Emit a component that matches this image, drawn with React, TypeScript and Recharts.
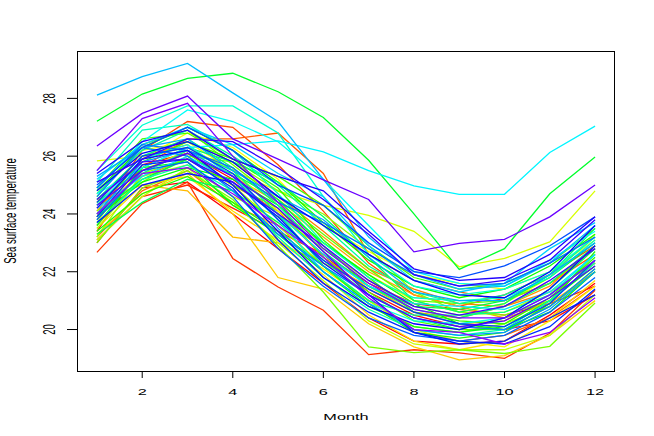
import { LineChart, Line, XAxis, YAxis } from 'recharts';

// monthly sea surface temperature, one line per year
const months = [1, 2, 3, 4, 5, 6, 7, 8, 9, 10, 11, 12];
const xTicks = [2, 4, 6, 8, 10, 12];
const yTicks = [20, 22, 24, 26, 28];

const s00 = [23.0, 24.9, 25.1, 24.0, 22.8, 21.6, 20.4, 19.6, 19.5, 19.6, 20.5, 21.6];
const s01 = [23.4, 25.7, 26.1, 25.2, 24.0, 22.6, 21.3, 20.5, 20.1, 20.0, 20.3, 21.2];
const t00 = [23.1, 24.6, 25.0, 24.2, 23.4, 22.6, 21.6, 20.9, 20.7, 20.5, 20.9, 21.5];
const s02 = [22.67, 24.36, 25.1, 22.46, 21.47, 20.67, 19.13, 19.3, 19.19, 19.0, 19.87, 21.36];
const s03 = [23.9, 26.2, 27.2, 27.0, 25.7, 24.1, 22.3, 21.2, 20.8, 21.2, 21.9, 22.9];
const s04 = [24.2, 25.6, 26.6, 26.6, 26.8, 25.4, 22.6, 21.7, 21.3, 21.0, 21.6, 22.6];
const s05 = [23.2, 24.8, 25.5, 24.3, 23.6, 22.2, 20.9, 19.9, 19.6, 19.8, 20.4, 21.5];
const t01 = [24.1, 25.9, 26.5, 25.8, 24.6, 23.4, 22.1, 21.4, 20.9, 20.8, 21.3, 22.3];
const s06 = [23.6, 25.3, 25.9, 25.0, 24.1, 22.5, 21.4, 20.6, 20.4, 20.8, 21.5, 22.9];
const s07 = [24.4, 26.0, 26.4, 25.3, 24.4, 23.2, 22.0, 21.2, 20.8, 20.4, 20.9, 22.0];
const s08 = [24.5, 25.0, 24.8, 23.2, 23.0, 22.3, 21.5, 20.6, 20.2, 20.3, 21.0, 22.3];
const s09 = [23.3, 24.7, 25.4, 24.0, 21.8, 21.4, 20.2, 19.4, 18.95, 19.1, 19.8, 21.0];
const t02 = [23.5, 25.0, 25.3, 24.1, 23.1, 21.9, 20.5, 19.6, 19.3, 19.6, 20.4, 21.7];
const s10 = [24.0, 25.5, 26.2, 25.6, 23.1, 22.1, 21.0, 20.0, 19.6, 19.4, 20.3, 21.5];
const s11 = [23.7, 25.9, 26.8, 26.3, 25.2, 23.6, 22.7, 21.9, 21.6, 21.4, 22.0, 23.1];
const t03 = [24.7, 26.2, 26.5, 25.5, 24.1, 23.0, 21.9, 21.0, 20.6, 20.9, 21.8, 23.3];
const s12 = [25.84, 26.0, 26.3, 25.5, 24.8, 24.3, 23.95, 23.4, 22.17, 22.46, 23.03, 24.8];
const s13 = [23.1, 24.6, 25.6, 24.4, 23.0, 21.7, 20.3, 19.5, 19.3, 19.3, 19.8, 21.2];
const s14 = [23.5, 25.3, 25.7, 24.6, 23.9, 22.8, 21.7, 20.8, 20.5, 20.6, 21.3, 22.3];
const t04 = [23.2, 25.4, 25.9, 25.0, 23.6, 22.2, 21.0, 20.1, 19.9, 20.2, 20.8, 22.1];
const s15 = [24.1, 25.1, 26.0, 25.8, 24.8, 24.0, 22.8, 21.3, 20.6, 20.5, 21.0, 22.6];
const s16 = [23.0, 24.9, 25.5, 24.5, 22.9, 21.3, 19.4, 19.2, 19.3, 19.17, 19.42, 20.92];
const s17 = [24.6, 26.4, 26.9, 25.7, 24.5, 23.3, 22.1, 21.0, 20.9, 21.0, 21.6, 22.8];
const s18 = [23.8, 25.5, 26.1, 25.0, 24.2, 22.5, 21.3, 20.3, 20.0, 20.0, 20.8, 22.0];
const t05 = [24.9, 26.6, 26.8, 25.9, 25.3, 24.3, 22.9, 21.8, 21.4, 21.6, 22.3, 23.5];
const s19 = [24.3, 25.8, 26.5, 25.9, 24.9, 23.1, 21.8, 20.6, 20.3, 20.2, 21.1, 22.5];
const s20 = [23.4, 24.7, 25.3, 24.4, 23.4, 22.2, 20.9, 19.9, 19.7, 19.9, 20.9, 22.7];
const s21 = [24.8, 26.3, 27.0, 26.2, 25.1, 23.7, 22.4, 21.5, 21.1, 21.4, 22.2, 23.3];
const t06 = [23.9, 25.1, 25.6, 25.2, 24.3, 23.0, 21.9, 20.9, 20.2, 20.0, 20.6, 22.0];
const s22 = [23.6, 25.6, 25.8, 24.3, 23.3, 22.0, 20.8, 20.1, 19.9, 20.1, 21.0, 22.2];
const s23 = [27.21, 28.15, 28.69, 28.87, 28.23, 27.34, 25.86, 24.0, 22.08, 22.8, 24.7, 25.97];
const s24 = [24.0, 25.2, 25.9, 25.4, 24.5, 22.9, 21.5, 20.8, 20.7, 21.0, 21.8, 23.0];
const s25 = [23.3, 24.4, 25.2, 24.8, 23.7, 22.4, 21.2, 20.4, 20.0, 20.4, 21.4, 22.8];
const t07 = [24.4, 25.6, 26.3, 25.8, 25.1, 23.9, 22.5, 21.0, 20.6, 20.9, 21.9, 23.5];
const s26 = [24.5, 26.0, 26.6, 25.6, 24.3, 22.7, 21.5, 20.7, 20.4, 20.8, 21.6, 22.9];
const s27 = [23.9, 25.4, 26.2, 25.5, 24.0, 22.2, 21.0, 20.5, 20.5, 20.6, 21.2, 22.4];
const s28 = [24.7, 26.2, 26.9, 26.0, 25.0, 23.6, 22.2, 21.3, 20.9, 21.2, 21.9, 23.2];
const t08 = [23.7, 25.2, 25.7, 24.8, 23.2, 21.8, 20.7, 20.0, 19.8, 20.0, 21.0, 22.3];
const s29 = [25.1, 26.9, 27.1, 26.2, 24.7, 23.0, 21.8, 21.1, 21.0, 21.1, 21.8, 23.1];
const s30 = [25.5, 27.07, 27.74, 27.74, 26.8, 24.6, 22.6, 21.5, 21.2, 21.4, 22.0, 23.2];
const s31 = [24.3, 25.9, 26.4, 25.3, 23.8, 22.0, 20.9, 20.3, 20.2, 20.4, 21.2, 22.6];
const s32 = [24.9, 26.5, 27.6, 27.2, 26.5, 25.2, 23.6, 22.0, 21.6, 21.5, 22.4, 23.4];
const s33 = [24.7, 25.6, 26.3, 26.4, 26.53, 26.15, 25.5, 24.97, 24.68, 24.68, 26.13, 27.04];
const s34 = [24.2, 25.3, 26.0, 25.1, 24.0, 22.6, 21.5, 20.9, 20.8, 20.7, 21.3, 22.6];
const t09 = [25.2, 26.4, 27.0, 26.4, 25.4, 24.6, 22.9, 21.7, 21.3, 21.6, 22.8, 23.7];
const s35 = [28.11, 28.75, 29.21, 28.19, 27.2, 25.2, 23.2, 21.9, 21.4, 21.5, 22.3, 23.6];
const s36 = [25.3, 26.3, 26.6, 25.5, 24.6, 23.8, 22.5, 21.3, 21.0, 21.0, 21.9, 23.0];
const s37 = [24.0, 25.8, 26.2, 25.3, 23.5, 22.0, 20.9, 20.0, 19.8, 19.9, 20.7, 22.0];
const s38 = [24.6, 26.3, 26.0, 24.8, 23.3, 22.2, 21.2, 20.4, 20.1, 20.0, 20.8, 22.1];
const t10 = [24.9, 26.4, 26.2, 25.6, 24.4, 23.7, 22.8, 21.9, 21.5, 21.6, 22.3, 23.2];
const s39 = [23.8, 25.5, 25.8, 24.6, 22.8, 21.5, 20.4, 19.8, 19.6, 19.8, 20.6, 21.8];
const s40 = [25.0, 26.3, 27.0, 26.2, 25.0, 24.3, 23.0, 22.0, 21.8, 22.2, 22.9, 23.9];
const s41 = [24.4, 26.0, 26.3, 25.4, 23.8, 22.4, 21.4, 20.6, 20.2, 20.1, 20.9, 22.4];
const t11 = [23.9, 25.7, 25.9, 24.9, 23.1, 21.6, 20.6, 19.9, 19.6, 19.5, 20.1, 21.4];
const s42 = [23.7, 25.0, 25.4, 25.1, 23.9, 22.3, 21.2, 19.9, 19.5, 19.6, 20.4, 21.2];
const s43 = [24.8, 26.1, 26.5, 25.8, 24.6, 23.6, 22.6, 21.7, 21.2, 21.1, 22.0, 23.6];
const s44 = [24.2, 25.9, 26.2, 25.0, 23.4, 21.8, 20.8, 20.2, 20.0, 20.4, 21.4, 22.9];
const t12 = [25.4, 26.5, 26.9, 25.9, 25.3, 24.8, 23.4, 22.1, 21.7, 21.8, 22.6, 23.9];
const s45 = [25.1, 25.9, 26.6, 26.5, 25.6, 24.5, 23.3, 21.9, 21.5, 21.7, 22.4, 23.8];
const s46 = [24.5, 25.8, 25.9, 25.1, 24.0, 22.9, 21.7, 20.8, 20.5, 20.8, 21.7, 22.8];
const t13 = [24.3, 25.5, 26.1, 25.3, 24.2, 22.7, 21.2, 20.4, 20.1, 20.3, 21.1, 22.2];
const s47 = [26.35, 27.48, 28.08, 26.6, 25.9, 25.18, 24.5, 22.69, 22.98, 23.12, 23.9, 25.0];
const s48 = [25.5, 27.3, 27.83, 26.0, 24.4, 22.8, 21.6, 20.7, 20.4, 20.4, 21.2, 22.4];
const s49 = [24.0, 25.4, 25.6, 24.7, 23.6, 22.5, 21.1, 20.0, 19.9, 19.5, 19.9, 21.1];

const allSeries = [
  s00, s01, t00, s02, s03, s04, s05, t01, s06, s07, s08, s09, t02,
  s10, s11, t03, s12, s13, s14, t04, s15, s16, s17, s18, t05, s19,
  s20, s21, t06, s22, s23, s24, s25, t07, s26, s27, s28, t08, s29,
  s30, s31, s32, s33, s34, t09, s35, s36, s37, s38, t10, s39,
  s40, s41, t11, s42, s43, s44, t12, s45, s46, t13, s47, s48, s49,
];

const FONT = '"Liberation Sans", Arial, Helvetica, sans-serif';
// the picture looks stretched sideways, so text gets the same stretch
const STRETCH = 'scale(1.36,0.8)';

// like R's rainbow(): full saturation and value, hue going red -> violet
function hueColor(h: number) {
  const i = Math.floor(h * 6);
  const f = h * 6 - i;
  const q = 1 - f;
  const rgb = [
    [1, f, 0],
    [q, 1, 0],
    [0, 1, f],
    [0, q, 1],
    [f, 0, 1],
    [1, 0, q],
  ][i % 6];
  return (
    '#' +
    rgb
      .map((c) => Math.round(c * 255).toString(16).padStart(2, '0'))
      .join('')
  );
}

const keys = allSeries.map((_, i) => `y${String(i).padStart(2, '0')}`);
const colors = allSeries.map((_, i) => hueColor((0.76 * i) / (allSeries.length - 1)));

const data = months.map((m, mi) => {
  const row: Record<string, number> = { month: m };
  allSeries.forEach((s, si) => {
    row[keys[si]] = s[mi];
  });
  return row;
});

const XTick = ({ x, payload }: any) => (
  <text
    transform={`translate(${x},395) ${STRETCH}`}
    textAnchor="middle"
    fontSize={12}
    fontFamily={FONT}
    fill="#000"
  >
    {payload.value}
  </text>
);

const YTick = ({ y, payload }: any) => (
  <text
    transform={`translate(55,${y}) ${STRETCH} rotate(-90)`}
    textAnchor="middle"
    fontSize={12}
    fontFamily={FONT}
    fill="#000"
  >
    {payload.value}
  </text>
);

export default function App() {
  return (
    <div
      style={{
        position: 'absolute',
        left: 0,
        top: 0,
        width: 654,
        height: 436,
        background: '#fff',
      }}
    >
      <LineChart
        width={654}
        height={436}
        data={data}
        margin={{ top: 51, right: 39, left: 0, bottom: 0 }}
      >
        <XAxis
          dataKey="month"
          type="number"
          domain={[0.56, 12.44]}
          ticks={xTicks}
          height={64}
          axisLine={false}
          tickSize={6}
          tickLine={{ stroke: '#000' }}
          tick={<XTick />}
        />
        <YAxis
          type="number"
          domain={[18.53, 29.64]}
          ticks={yTicks}
          width={77}
          axisLine={false}
          tickSize={10}
          tickLine={{ stroke: '#000' }}
          tick={<YTick />}
        />
        {keys.map((k, i) => (
          <Line
            key={k}
            dataKey={k}
            type="linear"
            stroke={colors[i]}
            strokeWidth={1.3}
            dot={false}
            activeDot={false}
            isAnimationActive={false}
          />
        ))}
      </LineChart>

      {/* plot box */}
      <div
        style={{
          position: 'absolute',
          left: 77,
          top: 51,
          width: 538,
          height: 321,
          border: '1px solid #000',
          boxSizing: 'border-box',
          pointerEvents: 'none',
        }}
      />

      {/* axis titles */}
      <svg
        width={654}
        height={436}
        style={{ position: 'absolute', left: 0, top: 0, pointerEvents: 'none' }}
      >
        <text
          transform={`translate(346,420) ${STRETCH}`}
          textAnchor="middle"
          fontSize={12}
          fontFamily={FONT}
        >
          Month
        </text>
        <text
          transform={`translate(16,211) ${STRETCH} rotate(-90)`}
          textAnchor="middle"
          fontSize={12}
          fontFamily={FONT}
        >
          Sea surface temperature
        </text>
      </svg>
    </div>
  );
}
